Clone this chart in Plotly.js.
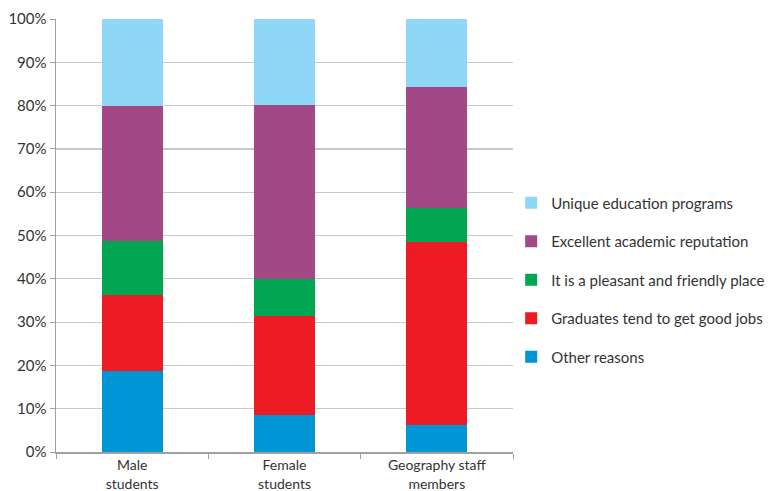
<!DOCTYPE html>
<html>
<head>
<meta charset="utf-8">
<script src="https://cdn.plot.ly/plotly-3.0.1.min.js"></script>
<style>html,body{margin:0;padding:0;background:#fff;}#chart{width:783px;height:491px;}</style>
</head>
<body>
<div id="chart"></div>
<script>
const categories = ["Male<br>students", "Female<br>students", "Geography staff<br>members"];
const seriesNames = ["Other reasons", "Graduates tend to get good jobs", "It is a pleasant and friendly place", "Excellent academic reputation", "Unique education programs"];
const otherReasons = [18.6, 8.5, 6.3];
const goodJobs = [17.6, 23.0, 42.1];
const pleasantPlace = [12.6, 8.5, 7.9];
const academicReputation = [31.1, 40.1, 28.1];
const uniquePrograms = [20.1, 19.9, 15.6];
const yTickValues = [0, 10, 20, 30, 40, 50, 60, 70, 80, 90, 100];
const yTickLabels = ["0%", "10%", "20%", "30%", "40%", "50%", "60%", "70%", "80%", "90%", "100%"];

const seriesValues = [otherReasons, goodJobs, pleasantPlace, academicReputation, uniquePrograms];
const colors = ["#0096d6", "#ed1c24", "#00a651", "#a34886", "#8fd7f6"];

const traces = seriesValues.map((vals, i) => ({
  type: "bar",
  name: seriesNames[i],
  x: categories,
  y: vals,
  legendgroup: "g" + i,
  legendrank: 100 - i,
  marker: {color: colors[i], line: {width: 0}},
  hoverinfo: "name+y"
}));

const layout = {
  width: 783,
  height: 491,
  margin: {l: 56, r: 270, t: 19, b: 39, pad: 0, autoexpand: false},
  barmode: "stack",
  bargap: 0.6,
  paper_bgcolor: "#ffffff",
  plot_bgcolor: "#ffffff",
  font: {family: "Lato, 'Open Sans', sans-serif", size: 15, color: "#333333"},
  showlegend: true,
  legend: {
    x: 0.996, xanchor: "left",
    y: 0.397, yanchor: "middle",
    traceorder: "grouped",
    tracegroupgap: 16,
    font: {size: 15, color: "#333333"},
    itemwidth: 30,
    bgcolor: "rgba(0,0,0,0)"
  },
  xaxis: {
    type: "category",
    showline: true,
    linecolor: "#a0a0a0",
    linewidth: 1.5,
    ticks: "outside",
    tickson: "boundaries",
    ticklen: 5,
    tickcolor: "#a0a0a0",
    showgrid: false,
    tickfont: {size: 14, color: "#333333"},
    fixedrange: true
  },
  yaxis: {
    range: [0, 100],
    tickvals: yTickValues,
    ticktext: yTickLabels,
    showline: true,
    linecolor: "#a0a0a0",
    linewidth: 1.5,
    ticks: "outside",
    ticklen: 5,
    tickcolor: "#a0a0a0",
    showgrid: true,
    gridcolor: "#c8c8c8",
    gridwidth: 1.2,
    zeroline: false,
    tickfont: {size: 15, color: "#333333"},
    fixedrange: true
  }
};

Plotly.newPlot("chart", traces, layout, {displayModeBar: false, staticPlot: true});
</script>
</body>
</html>
